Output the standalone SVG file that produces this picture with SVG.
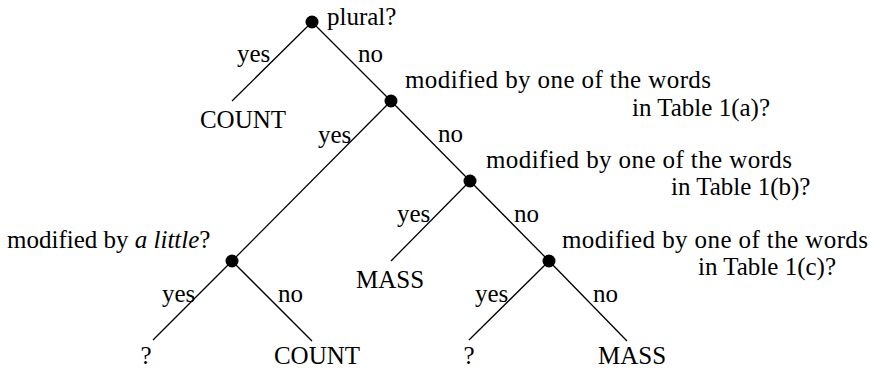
<svg xmlns="http://www.w3.org/2000/svg" width="882" height="374" viewBox="0 0 882 374" font-family="Liberation Serif, serif" font-size="25">
<style>
text{font-family:'Liberation Serif',serif;font-size:25px;fill:#000}
.leaf{text-anchor:middle}
.e{stroke:#000;stroke-width:1.3;fill:none}
.dot{fill:#000}
</style>
<rect width="882" height="374" fill="#fff"/>
<g id="connectors">
<line class="e" x1="312" y1="22" x2="232" y2="101"/>
<line class="e" x1="312" y1="22" x2="391" y2="101"/>
<line class="e" x1="391" y1="101" x2="232" y2="261"/>
<line class="e" x1="391" y1="101" x2="470" y2="181"/>
<line class="e" x1="470" y1="181" x2="391" y2="261"/>
<line class="e" x1="470" y1="181" x2="549" y2="261"/>
<line class="e" x1="232" y1="261" x2="153" y2="340"/>
<line class="e" x1="232" y1="261" x2="312" y2="341"/>
<line class="e" x1="549" y1="261" x2="469" y2="340"/>
<line class="e" x1="549" y1="261" x2="627" y2="341"/>
<text x="237" y="62">yes</text>
<text x="358" y="62">no</text>
<text x="318" y="143">yes</text>
<text x="438" y="142">no</text>
<text x="397" y="222">yes</text>
<text x="514" y="222">no</text>
<text x="162" y="302">yes</text>
<text x="278" y="302">no</text>
<text x="475" y="302">yes</text>
<text x="593" y="302">no</text>
</g>
<g id="n-plural">
<circle class="dot" cx="312" cy="22" r="6.5"/>
<text x="327" y="25">plural?</text>
</g>
<g id="n-table1a">
<circle class="dot" cx="391" cy="101" r="6.5"/>
<text x="405" y="88" textLength="306">modified by one of the words</text>
<text x="632" y="116">in Table 1(a)?</text>
</g>
<g id="n-table1b">
<circle class="dot" cx="470" cy="181" r="6.5"/>
<text x="486" y="168" textLength="306">modified by one of the words</text>
<text x="671" y="195">in Table 1(b)?</text>
</g>
<g id="n-table1c">
<circle class="dot" cx="549" cy="261" r="6.5"/>
<text x="562" y="248" textLength="306">modified by one of the words</text>
<text x="698" y="275">in Table 1(c)?</text>
</g>
<g id="n-little">
<circle class="dot" cx="232" cy="261" r="6.5"/>
<text x="7" y="248">modified by <tspan font-style="italic">a little</tspan>?</text>
</g>
<g id="leaf-count1"><text class="leaf" x="243" y="128">COUNT</text></g>
<g id="leaf-mass1"><text class="leaf" x="390" y="288">MASS</text></g>
<g id="leaf-q1"><text class="leaf" x="146" y="364">?</text></g>
<g id="leaf-count2"><text class="leaf" x="317" y="364">COUNT</text></g>
<g id="leaf-q2"><text class="leaf" x="469" y="364">?</text></g>
<g id="leaf-mass2"><text class="leaf" x="632" y="364">MASS</text></g>
</svg>
